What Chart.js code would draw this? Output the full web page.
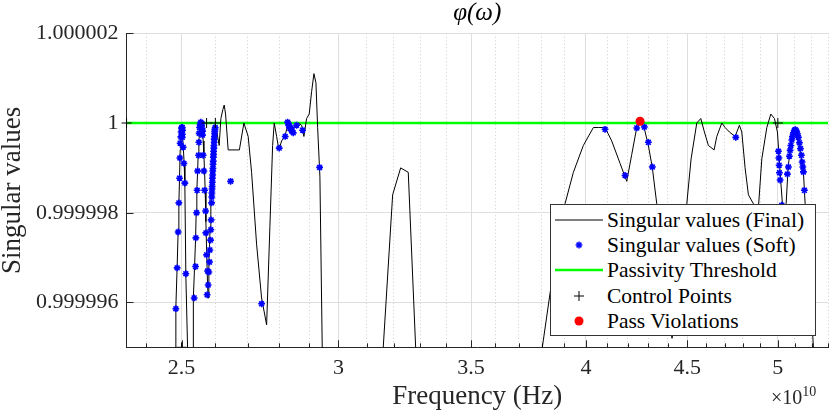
<!DOCTYPE html>
<html>
<head>
<meta charset="utf-8">
<script src="https://cdn.jsdelivr.net/npm/chart.js@4.4.1/dist/chart.umd.min.js"></script>
<style>
  html, body { margin: 0; padding: 0; background: #fff; }
  #wrap { position: relative; width: 830px; height: 414px; overflow: hidden; }
  #legend { position: absolute; left: 550px; top: 204px; width: 264px; height: 130px;
            background: #fff; border: 1px solid #333; box-sizing: content-box; }
  .row { position: absolute; left: 0; height: 24px; width: 264px; }
  .row svg { position: absolute; left: 4px; top: 2px; }
  .row span { position: absolute; left: 56px; top: 0; font-family: "Liberation Serif", serif;
              font-size: 21.5px; line-height: 24px; color: #000; white-space: nowrap; }
  #expo { position: absolute; left: 771px; top: 386px; font-family: "Liberation Serif", serif;
          font-size: 20px; line-height: 22px; color: #262626; white-space: nowrap; }
  #expo sup { font-size: 14px; vertical-align: 8px; line-height: 0; }
</style>
</head>
<body>
<div id="wrap">
  <canvas id="c" width="830" height="414"></canvas>
  <div id="legend"></div>
  <div id="expo">×10<sup>10</sup></div>
</div>
<script>
// ---------- data (frequency in units of 1e10 Hz) ----------
const titleText = "φ(ω)";
const xLabel = "Frequency (Hz)";
const yLabel = "Singular values";
const legendLabels = ["Singular values (Final)", "Singular values (Soft)", "Passivity Threshold", "Control Points", "Pass Violations"];

const xMin = 2.345;
const xMax = 5.3;
const yMin = 0.999995;
const yMax = 1.000002;

const xTickValues = [2.4,2.5,2.6,2.7,2.8,2.9,3,3.1,3.2,3.3,3.4,3.5,3.6,3.7,3.8,3.9,4,4.1,4.2,4.3,4.4,4.5,4.6,4.7,4.8,4.9,5,5.1,5.2,5.3];
const xMajorTicks = [2.5,3,3.5,4,4.5,5];
const yTickValues = [0.999996,0.999998,1,1.000002];

const finalFreq = [
  2.4777,2.4826,2.4835,2.4872,2.4901,2.4922,2.4942,2.4959,2.4980,2.5003,
  2.5029,2.5047,2.5076,2.5096,2.5125,2.5175,2.5213,2.5301,2.5339,2.5345,
  2.5381,2.5410,2.5428,2.5448,2.5470,2.5487,2.5508,2.5529,2.5553,2.5582,
  2.5612,2.5636,2.5657,2.5678,2.5696,2.5717,2.5741,2.5767,2.5785,2.5806,
  2.5827,2.5845,2.5866,2.5888,2.5912,2.5936,2.5963,2.5987,2.6024,2.6117,
  2.6169,2.6230,2.6270,2.6312,2.6352,2.6392,2.6738,2.6878,2.7013,2.7120,
  2.7278,2.7437,2.7598,2.7704,2.7791,2.7843,2.7921,2.7995,2.8083,2.8191,
  2.8299,2.8388,2.8487,2.8630,2.8744,2.8821,2.8911,2.8999,2.9080,2.9158,
  2.9226,2.9284,2.9362,2.9441,2.9465,3.1557,3.1605,3.1952,3.2251,3.2537,
  3.2818,3.2849,3.7967,3.8024,3.8366,3.8724,3.9041,3.9421,3.9881,4.0349,
  4.0583,4.0900,4.1219,4.1620,4.1945,4.2190,4.2436,4.2599,4.2797,4.3012,
  4.3212,4.3434,4.3855,4.4212,4.4572,4.4977,4.5202,4.5503,4.5716,4.5907,
  4.6121,4.6428,4.6574,4.6845,4.7025,4.7260,4.7575,4.7813,4.7946,4.8130,
  4.8317,4.8598,4.8808,4.9076,4.9362,4.9592,4.9800,4.9974,5.0131,5.0265,
  5.0364,5.0482,5.0599,5.0776,5.1013,5.1251,5.1508,5.1610,5.2110,5.2152
];
const finalValue = [
  0.9999943,0.9999950,0.9999959,0.9999968,0.9999976,0.9999982,0.9999988,0.9999994,0.9999998,0.9999999,
  0.9999997,0.9999995,0.9999991,0.9999986,0.9999966,0.9999950,0.9999941,0.9999941,0.9999950,0.9999961,
  0.9999968,0.9999974,0.9999980,0.9999985,0.9999989,0.9999993,0.9999996,0.9999998,0.9999999,0.99999997,
  0.9999999,0.9999996,0.9999993,0.9999989,0.9999985,0.9999978,0.9999971,0.9999964,0.9999961,0.9999969,
  0.9999973,0.9999977,0.9999983,0.9999987,0.9999992,0.9999995,0.9999998,0.9999999,0.9999999,0.9999995,
  1.0000001,1.0000003,1.0000004,1.0000002,0.9999998,0.9999994,0.9999994,1.0000000,0.9999997,0.9999989,
  0.9999973,0.9999961,0.9999955,0.9999977,0.9999995,1.0000000,0.9999997,0.9999994,0.9999996,0.9999997,
  1.0000000,0.9999999,0.9999999,1.0000000,0.99999995,0.9999997,1.0000001,1.0000002,1.0000007,1.0000011,
  1.0000009,0.9999999,0.9999988,0.9999950,0.9999941,0.9999941,0.9999950,0.9999984,0.9999990,0.9999989,
  0.9999950,0.9999941,0.9999941,0.9999950,0.9999962,0.9999974,0.9999982,0.9999989,0.9999995,0.9999999,
  0.9999999,0.9999999,0.9999996,0.9999991,0.9999987,0.9999993,0.9999999,1.0000000,0.9999999,0.9999995,
  0.9999990,0.9999982,0.9999963,0.9999952,0.9999963,0.9999982,0.9999992,1.0000000,1.0000001,0.9999998,
  0.9999995,0.9999994,0.9999997,1.0000000,0.9999999,0.9999998,0.9999997,0.99999995,0.9999998,0.9999990,
  0.9999984,0.9999982,0.9999977,0.9999992,0.9999999,1.0000002,1.0000001,0.9999998,0.9999989,0.9999982,
  0.9999963,0.9999982,0.9999990,0.9999996,0.9999998,0.9999995,0.9999989,0.9999982,0.9999950,0.9999941
];

const softFreq = [
  2.4835,2.4872,2.4901,2.4922,2.4942,2.4951,2.4959,2.4980,2.4988,2.5000,
  2.5009,2.5017,2.5029,2.5023,2.5021,2.5047,2.5067,2.5096,2.5125,
  2.5369,2.5410,2.5419,2.5440,2.5457,2.5470,2.5499,2.5508,2.5517,2.5529,
  2.5546,2.5567,2.5588,2.5597,2.5606,2.5618,2.5616,
  2.5636,2.5657,2.5678,2.5708,2.5717,2.5738,2.5767,2.5785,2.5755,
  2.5806,2.5827,2.5836,2.5857,2.5866,2.5875,2.5888,
  2.5893,2.5896,2.5902,2.5905,2.5911,2.5913,2.5920,2.5923,2.5929,2.5932,
  2.5938,2.5941,2.5947,2.5949,2.5956,2.5958,2.5965,2.5967,2.5974,2.5977,
  2.5984,2.5988,2.5997,
  2.6466,2.7437,2.8005,2.8201,2.8280,2.8313,2.8332,2.8355,2.8388,2.8412,
  2.8421,2.8465,2.8577,2.8777,2.9352,
  4.0900,4.1862,4.2436,4.2812,4.3012,4.3212,4.7614,
  5.0033,5.0056,5.0074,5.0091,5.0131,5.0229,
  5.0557,5.0616,5.0675,5.0717,5.0758,5.0817,5.0852,5.0912,5.0971,5.1031,
  5.1090,5.1150,5.1210,5.1270,5.1329,5.1389,5.1431,5.1471,5.1507,5.1567
];
const softValue = [
  0.99999586,0.99999677,0.99999757,0.99999822,0.99999877,0.99999922,0.99999955,0.99999969,0.9999998,0.99999988,
  0.9999999,0.9999999,0.99999984,0.99999975,0.99999968,0.99999946,0.9999991,0.99999866,0.99999664,
  0.9999961,0.9999968,0.99999744,0.999998,0.9999985,0.99999893,0.99999928,0.99999957,0.99999977,0.9999999,
  0.99999997,1.00000002,0.99999995,0.99999999,0.99999988,0.99999982,0.99999973,
  0.99999928,0.99999893,0.9999985,0.99999804,0.99999755,0.99999706,0.9999967,0.99999639,0.99999617,
  0.99999668,0.9999969,0.99999717,0.99999739,0.99999762,0.99999784,0.99999822,
  0.99999835,0.99999844,0.99999853,0.99999859,0.99999868,0.99999877,0.99999884,0.99999893,0.99999899,0.99999908,
  0.99999915,0.99999924,0.9999993,0.99999937,0.99999944,0.9999995,0.99999957,0.99999964,0.9999997,0.99999977,
  0.99999982,0.99999986,0.9999999,
  0.9999987,0.99999597,0.99999944,0.9999997,1.00000002,0.99999995,0.99999995,0.99999988,0.99999988,0.99999984,
  0.99999982,0.99999978,0.99999995,0.99999984,0.99999901,
  0.99999986,0.99999883,0.99999989,0.99999991,0.99999957,0.99999902,0.99999968,
  0.99999937,0.99999922,0.99999906,0.99999889,0.99999873,0.99999817,
  0.99999886,0.99999902,0.99999926,0.99999939,0.9999995,0.99999962,0.9999997,0.99999978,0.99999984,0.99999985,
  0.99999982,0.99999976,0.99999968,0.99999956,0.99999943,0.99999928,0.99999913,0.99999902,0.99999891,0.9999985
];

const thresholdFreq = [2.345, 5.3];
const thresholdValue = [1, 1];

const controlFreq = [2.3451, 2.5, 2.5738, 2.6002, 4.9998];
const controlValue = [1, 0.9999950, 1, 1, 1];

const violationFreq = [4.2599];
const violationValue = [1.00000004];

// ---------- styles ----------
const FONT = "'Liberation Serif', 'Times New Roman', serif";
const AXIS_COLOR = '#262626';
const toPts = (xs, ys) => xs.map((x, i) => ({ x: x, y: ys[i] }));
const isMajor = v => xMajorTicks.includes(v);

const inwardTicks = {
  id: 'inwardTicks',
  beforeDatasetsDraw(chart) {
    const { ctx, chartArea: a, scales } = chart;
    const xs = scales.x, ys = scales.y;
    ctx.save();
    ctx.strokeStyle = AXIS_COLOR;
    ctx.lineWidth = 1;
    ctx.beginPath();
    xTickValues.forEach(v => {
      const px = Math.round(xs.getPixelForValue(v)) + 0.5;
      const len = isMajor(v) ? 7 : 4;
      ctx.moveTo(px, a.bottom);
      ctx.lineTo(px, a.bottom - len);
    });
    yTickValues.forEach(v => {
      const py = Math.round(ys.getPixelForValue(v)) + 0.5;
      ctx.moveTo(a.left, py);
      ctx.lineTo(a.left + 7, py);
    });
    ctx.stroke();
    ctx.restore();
  }
};

const chart = new Chart(document.getElementById('c'), {
  type: 'scatter',
  data: {
    datasets: [
      { label: legendLabels[2], data: toPts(thresholdFreq, thresholdValue), showLine: true,
        borderColor: '#00ff00', borderWidth: 2.5, pointRadius: 0, order: 10, clip: 0 },
      { label: legendLabels[0], data: toPts(finalFreq, finalValue), showLine: true,
        borderColor: '#000000', borderWidth: 1, pointRadius: 0, tension: 0, order: 5, clip: 0 },
      { label: legendLabels[1], data: toPts(softFreq, softValue), showLine: false,
        pointStyle: 'star', pointRadius: 3.4, pointBorderWidth: 1.6, pointBorderColor: '#0000ff',
        pointBackgroundColor: '#0000ff', order: 3 },
      { label: legendLabels[3], data: toPts(controlFreq, controlValue), showLine: false,
        pointStyle: 'cross', pointRadius: 5, pointBorderWidth: 1, pointBorderColor: '#000000',
        order: 2, clip: { left: 8, top: 8, right: 8, bottom: 0 } },
      { label: legendLabels[4], data: toPts(violationFreq, violationValue), showLine: false,
        pointStyle: 'circle', pointRadius: 4.5, pointBorderWidth: 0, pointBackgroundColor: '#ff0000',
        pointBorderColor: '#ff0000', order: 1 }
    ]
  },
  options: {
    responsive: false,
    animation: false,
    events: [],
    layout: { padding: { left: 0, right: 2, top: 0, bottom: 0 }, autoPadding: false },
    plugins: {
      legend: { display: false },
      tooltip: { enabled: false },
      title: { display: true, text: titleText, color: '#000', fullSize: false,
               font: { family: FONT, size: 25, style: 'italic', weight: 'normal', lineHeight: 1.1 },
               padding: { top: 0, bottom: 5.8 } }
    },
    scales: {
      x: {
        type: 'logarithmic', position: 'bottom', min: xMin, max: xMax,
        afterBuildTicks: s => { s.ticks = xTickValues.map(v => ({ value: v, major: false })); },
        afterFit: s => { s.height = 66.7; s.paddingLeft = 0; s.paddingRight = 0; },
        ticks: { autoSkip: false, maxRotation: 0, minRotation: 0, padding: 8, color: AXIS_COLOR,
                 font: { family: FONT, size: 22 },
                 callback: v => isMajor(v) ? String(v) : '' },
        grid: { drawTicks: false, lineWidth: 1,
                color: c => (c.tick && isMajor(c.tick.value)) ? '#dedede' : '#cdcdcd' },
        border: { display: true, color: AXIS_COLOR, width: 1,
                  dash: c => (c.tick && !isMajor(c.tick.value)) ? [1, 2.5] : [] },
        title: { display: true, text: xLabel, color: AXIS_COLOR,
                 font: { family: FONT, size: 27, lineHeight: 1 }, padding: { top: 0, bottom: 4 } }
      },
      y: {
        type: 'linear', position: 'left', min: yMin, max: yMax,
        afterBuildTicks: s => { s.ticks = yTickValues.map(v => ({ value: v })); },
        afterFit: s => { s.width = 126.5; s.paddingTop = 0; s.paddingBottom = 0; },
        ticks: { autoSkip: false, padding: 8, color: AXIS_COLOR, font: { family: FONT, size: 22 },
                 callback: v => Number(v).toFixed(6).replace(/\.?0+$/, '') },
        grid: { drawTicks: false, lineWidth: 1, color: '#dedede' },
        border: { display: true, color: AXIS_COLOR, width: 1 },
        title: { display: true, text: yLabel, color: AXIS_COLOR,
                 font: { family: FONT, size: 27, lineHeight: 1 }, padding: { top: -1, bottom: 0 } }
      }
    }
  },
  plugins: [inwardTicks]
});

// ---------- legend (HTML) ----------
const legendSymbols = [
  '<line x1="0" y1="10" x2="48" y2="10" stroke="#000" stroke-width="1"/>',
  '<g stroke="#0000ff" stroke-width="1.5"><line x1="20.6" y1="10" x2="27.4" y2="10"/><line x1="24" y1="6.6" x2="24" y2="13.4"/><line x1="21.6" y1="7.6" x2="26.4" y2="12.4"/><line x1="21.6" y1="12.4" x2="26.4" y2="7.6"/></g>',
  '<line x1="0" y1="10" x2="48" y2="10" stroke="#00ff00" stroke-width="2.5"/>',
  '<g stroke="#000" stroke-width="1"><line x1="19" y1="10" x2="29" y2="10"/><line x1="24" y1="5" x2="24" y2="15"/></g>',
  '<circle cx="24" cy="10" r="4.5" fill="#ff0000"/>'
];
const legendEl = document.getElementById('legend');
legendLabels.forEach((lab, i) => {
  const row = document.createElement('div');
  row.className = 'row';
  row.style.top = (3 + i * 25.2) + 'px';
  row.innerHTML = '<svg width="48" height="20" viewBox="0 0 48 20">' + legendSymbols[i] + '</svg><span></span>';
  row.querySelector('span').textContent = lab;
  legendEl.appendChild(row);
});
</script>
</body>
</html>
